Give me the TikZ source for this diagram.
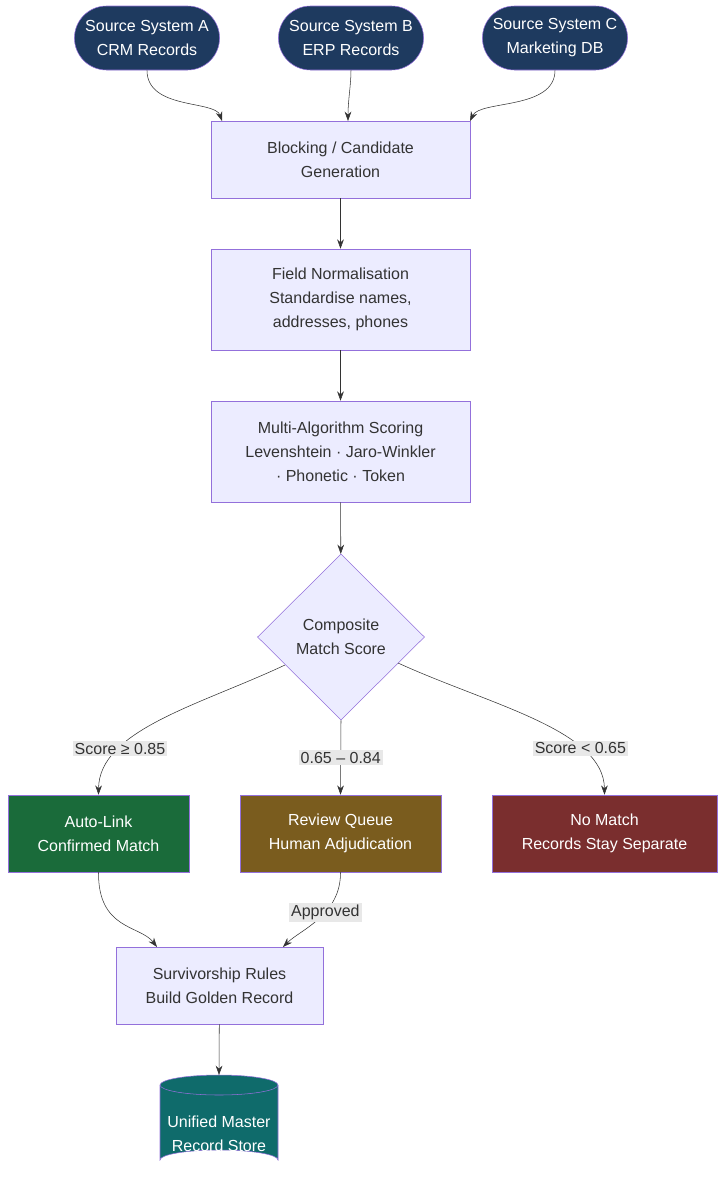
\documentclass[tikz,border=0pt]{standalone}
\usepackage{fontspec}
\setmainfont{Liberation Sans}
\usetikzlibrary{shapes.geometric, shapes.misc, arrows.meta}
\definecolor{boxfill}{HTML}{ECECFF}
\definecolor{boxline}{HTML}{9370DB}
\definecolor{navy}{HTML}{1E3A5F}
\definecolor{okgreen}{HTML}{1A6B3A}
\definecolor{brownq}{HTML}{7A5C1E}
\definecolor{darkred}{HTML}{7A2E2E}
\definecolor{teal}{HTML}{0F6B6B}
\definecolor{ink}{HTML}{333333}
\newdimen\px \px=0.75pt
\begin{document}
\begin{tikzpicture}[x=0.75pt, y=-0.75pt, font=\fontsize{12}{18}\selectfont, text=ink,
	proc/.style={rectangle, draw=boxline, fill=boxfill, align=center, minimum height=77\px, minimum width=259\px},
	source/.style={rounded rectangle, draw=boxline, fill=navy, text=white, align=center, minimum width=154\px, minimum height=64\px},
	result/.style={rectangle, draw=boxline, text=white, align=center, minimum height=77\px},
	lbl/.style={fill=black!9, inner sep=1.5pt, text=ink},
	arr/.style={-{Stealth[length=7pt, width=5pt]}, draw=ink, thin}]
	\useasboundingbox (0,0) rectangle (726,1182);

	% sources
	\node[source] (srcA) at (147,38) {Source System A\\CRM Records};
	\node[source] (srcB) at (351,38) {Source System B\\ERP Records};
	\node[source] (srcC) at (555,38) {Source System C\\Marketing DB};

	% pipeline
	\node[proc] (block) at (340.5,159.5) {Blocking / Candidate\\Generation};
	\node[proc, minimum height=101\px] (norm) at (340.5,299.5) {Field Normalisation\\Standardise names,\\addresses, phones};
	\node[proc, minimum height=101\px] (score) at (340.5,451.5) {Multi-Algorithm Scoring\\Levenshtein · Jaro-Winkler\\· Phonetic · Token};
	\node[diamond, draw=boxline, fill=boxfill, align=center, minimum width=167\px, minimum height=166\px, inner sep=0pt] (comp) at (341,637) {Composite\\Match Score};

	% outcomes
	\node[result, fill=okgreen, minimum width=181\px] (auto) at (98.5,833.5) {Auto-Link\\Confirmed Match};
	\node[result, fill=brownq, minimum width=201\px] (review) at (340.5,833.5) {Review Queue\\Human Adjudication};
	\node[result, fill=darkred, minimum width=225\px] (nomatch) at (604.5,833.5) {No Match\\Records Stay Separate};
	\node[proc, minimum width=207\px] (surv) at (219.5,985.5) {Survivorship Rules\\Build Golden Record};

	% master store
	\fill[teal, draw=boxline] (160,1085) arc[start angle=180, end angle=360, x radius=59, y radius=10]
		-- (278,1160) arc[start angle=0, end angle=-180, x radius=59, y radius=10] -- cycle;
	\draw[boxline] (160,1085) arc[start angle=180, end angle=0, x radius=59, y radius=10];
	\coordinate (storetop) at (219,1075);
	\node[text=white, align=center] (store) at (219,1134) {Unified Master\\Record Store};

	% connectors
	\draw[arr] (srcA.south) .. controls (147,110) and (215,100) .. (222,121);
	\draw[arr] (srcB.south) .. controls (351,85) and (348,100) .. (348,121);
	\draw[arr] (srcC.south) .. controls (555,110) and (480,100) .. (470,121);
	\draw[arr] (block) -- (norm);
	\draw[arr] (norm) -- (score);
	\draw[arr] (score) -- (comp);
	\draw[arr] (285,665) .. controls (200,705) and (99,730) .. node[lbl, pos=0.72] {Score ≥ 0.85} (auto.north);
	\draw[arr] (comp.south) -- node[lbl, pos=0.5] {0.65 – 0.84} (review.north);
	\draw[arr] (398,663) .. controls (490,705) and (604,730) .. node[lbl, pos=0.72] {Score < 0.65} (nomatch.north);
	\draw[arr] (auto.south) .. controls (98,930) and (140,925) .. (157,947);
	\draw[arr] (review.south) .. controls (341,915) and (300,930) .. node[lbl, pos=0.4] {Approved} (283,947);
	\draw[arr] (surv) -- (storetop);
\end{tikzpicture}
\end{document}
